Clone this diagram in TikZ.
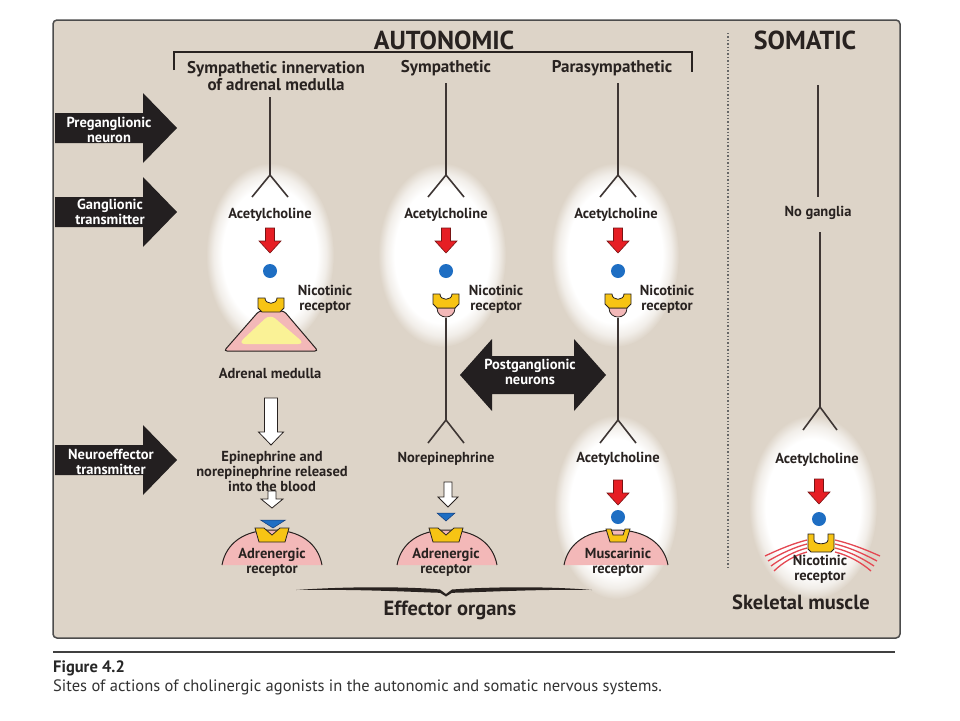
\documentclass[tikz,border=0pt]{standalone}
\usepackage{fontspec}
\setmainfont{PT Sans}
\definecolor{bgc}{RGB}{221,212,200}
\definecolor{txt}{RGB}{40,34,32}
\definecolor{nervec}{RGB}{62,54,52}
\definecolor{blk}{RGB}{35,31,32}
\definecolor{redc}{RGB}{230,30,36}
\definecolor{reddark}{RGB}{120,20,20}
\definecolor{bluec}{RGB}{30,110,195}
\definecolor{bluedark}{RGB}{20,60,120}
\definecolor{yel}{RGB}{247,196,20}
\definecolor{pinkc}{RGB}{243,184,184}
\definecolor{lyel}{RGB}{250,242,150}
\definecolor{muscred}{RGB}{228,72,82}
\pgfdeclareradialshading{glow}{\pgfpoint{0bp}{0bp}}{color(0bp)=(white); color(18.5bp)=(white); color(22bp)=(white!60!bgc); color(25bp)=(bgc); color(50bp)=(bgc)}
\tikzset{
  hdr/.style={font=\bfseries\fontsize{26}{28}\selectfont, text=txt, inner sep=0},
  colh/.style={font=\bfseries\fontsize{17}{17}\selectfont, text=txt, align=center, inner sep=0},
  lbl/.style={font=\bfseries\fontsize{14.5}{15}\selectfont, text=txt, align=center, inner sep=0},
  wl/.style={font=\bfseries\fontsize{14.5}{15}\selectfont, text=white, align=center, inner sep=0},
  big/.style={font=\bfseries\fontsize{20.5}{22}\selectfont, text=txt, inner sep=0},
  nerve/.style={draw=nervec, line width=1.6},
  outl/.style={draw=txt, line width=0.8},
  pics/leftarr/.style={code={\fill[blk] (0,-15) -- (88,-15) -- (88,-35) -- (122,0) -- (88,35) -- (88,15) -- (0,15) -- cycle;}},
  pics/dblarr/.style={code={\fill[blk] (-73,0) -- (-41,-36) -- (-41,-19) -- (41,-19) -- (41,-36) -- (73,0) -- (41,36) -- (41,19) -- (-41,19) -- (-41,36) -- cycle;}},
  pics/redarr/.style={code={\filldraw[fill=redc, draw=reddark, line width=0.6] (-4.5,0) -- (4.5,0) -- (4.5,13) -- (11,13) -- (0,25) -- (-11,13) -- (-4.5,13) -- cycle;}},
  pics/hollowbig/.style={code={\filldraw[fill=white, outl] (-6.5,0) -- (6.5,0) -- (6.5,34) -- (12.5,34) -- (0,47) -- (-12.5,34) -- (-6.5,34) -- cycle;}},
  pics/hollowsm/.style={code={\filldraw[fill=white, outl] (-4,0) -- (4,0) -- (4,8) -- (11,8) -- (0,17) -- (-11,8) -- (-4,8) -- cycle;}},
  pics/hollowmid/.style={code={\filldraw[fill=white, outl] (-4,0) -- (4,0) -- (4,15) -- (10,15) -- (0,25) -- (-10,15) -- (-4,15) -- cycle;}},
  pics/niccup/.style={code={\filldraw[fill=yel, outl] (-13,-7) -- (-6,-7) .. controls (-6,0) and (6,0) .. (6,-7) -- (13,-7) -- (13,3) -- (9,7) -- (-9,7) -- (-13,3) -- cycle;}},
  pics/adrcup/.style={code={\filldraw[fill=yel, outl] (-17,-7) -- (-8,-7) -- (0,0) -- (8,-7) -- (17,-7) -- (13,7) -- (-13,7) -- cycle;}},
  pics/muscup/.style={code={\filldraw[fill=yel, outl] (-12,-8) -- (-7,-8) -- (-5,-2) -- (5,-2) -- (7,-8) -- (12,-8) -- (8,5) -- (-8,5) -- cycle;}},
  pics/somcup/.style={code={\filldraw[fill=yel, outl] (-13,-9) -- (-7,-9) -- (-7,-3) .. controls (-7,2) and (7,2) .. (7,-3) -- (7,-9) -- (13,-9) -- (13,6) -- (10,9) -- (-10,9) -- (-13,6) -- cycle;}},
  pics/halfpink/.style={code={\filldraw[fill=pinkc, outl] (-9,0) .. controls (-9,12) and (9,12) .. (9,0) -- cycle;}},
  pics/dome/.style={code={
    \fill[pinkc] (-#1,0) .. controls (-0.92*#1,-22) and (-0.55*#1,-35) .. (0,-35) .. controls (0.55*#1,-35) and (0.92*#1,-22) .. (#1,0) -- cycle;
    \draw[txt, line width=1] (-#1,0) .. controls (-0.92*#1,-22) and (-0.55*#1,-35) .. (0,-35) .. controls (0.55*#1,-35) and (0.92*#1,-22) .. (#1,0);}},
  pics/bluetri/.style={code={\filldraw[fill=bluec, draw=bluedark, line width=0.5] (-#1,-4) -- (#1,-4) -- (0,4) -- cycle;}},
}
\begin{document}
\begin{tikzpicture}[x=1pt,y=-1pt]
\useasboundingbox (0,0) rectangle (960,720);
\fill[white] (0,0) rectangle (960,720);
% panel
\filldraw[fill=bgc, draw=black!70, line width=1.5, rounded corners=4] (53,20) rectangle (900,638);
% glows
\shade[shading=glow] (270,255) ellipse [x radius=64, y radius=92];
\shade[shading=glow] (442,255) ellipse [x radius=64, y radius=92];
\shade[shading=glow] (615,255) ellipse [x radius=64, y radius=92];
\shade[shading=glow] (616,507) ellipse [x radius=62, y radius=92];
\shade[shading=glow] (813,507) ellipse [x radius=64, y radius=92];
% headers
\node[hdr] (auto) at (444,40) {AUTONOMIC};
\node[hdr] (soma) at (805,40) {SOMATIC};
\draw[txt, line width=1.2] (174,70) -- (174,52) -- (692,52) -- (692,72);
\draw[black!60, line width=1.4, dotted] (728,33) -- (728,570);
\node[colh] (h1) at (276,76.5) {Sympathetic innervation\\of adrenal medulla};
\node[colh] (h2) at (446,68) {Sympathetic};
\node[colh] (h3) at (612,68) {Parasympathetic};
% left arrows
\pic at (55,128) {leftarr};
\pic at (55,212) {leftarr};
\pic at (55,460) {leftarr};
\node[wl] (pre) at (109,130) {Preganglionic\\neuron};
\node[wl] (gan) at (110,212) {Ganglionic\\transmitter};
\node[wl] (neu) at (111,462) {Neuroeffector\\transmitter};
% preganglionic neurons
\coordinate (n1t) at (270,97);  \coordinate (n1f) at (270,175);
\coordinate (n2t) at (446,83);  \coordinate (n2f) at (446,175);
\coordinate (n3t) at (618,83);  \coordinate (n3f) at (618,175);
\draw[nerve] (n1t) -- (n1f) -- +(-18,22) (n1f) -- +(18,22);
\draw[nerve] (n2t) -- (n2f) -- +(-18,22) (n2f) -- +(18,22);
\draw[nerve] (n3t) -- (n3f) -- +(-18,22) (n3f) -- +(18,22);
\coordinate (s1t) at (818,85); \coordinate (s1b) at (818,197);
\draw[nerve] (s1t) -- (s1b);
\node[lbl] (nog) at (818,213) {No ganglia};
\coordinate (s2t) at (820,232); \coordinate (s2f) at (820,407);
\draw[nerve] (s2t) -- (s2f) -- +(-17,23) (s2f) -- +(17,23);
% ganglionic transmission
\node[lbl] (ach1) at (270,215) {Acetylcholine};
\node[lbl] (ach2) at (446,215) {Acetylcholine};
\node[lbl] (ach3) at (616,215) {Acetylcholine};
\pic at (270,228) {redarr};
\pic at (446,228) {redarr};
\pic at (618,228) {redarr};
\fill[bluec] (270,271) circle (7);
\fill[bluec] (446,271) circle (7);
\fill[bluec] (618,271) circle (7);
% adrenal medulla
\filldraw[fill=pinkc, draw=txt, line width=1, rounded corners=3] (259,311) -- (284,311) -- (318,351) -- (224,351) -- cycle;
\fill[lyel, rounded corners=7] (270,314) -- (305,344) -- (238,344) -- cycle;
\pic at (271,305) {niccup};
\node[lbl] (nic1) at (325,299.5) {Nicotinic\\receptor};
\node[lbl] (adm) at (270,373) {Adrenal medulla};
% postganglionic lines
\coordinate (p2t) at (446,318); \coordinate (p2f) at (446,420);
\coordinate (p3t) at (618,318); \coordinate (p3f) at (618,420);
\draw[nerve] (p2t) -- (p2f) -- +(-18,23) (p2f) -- +(18,23);
\draw[nerve] (p3t) -- (p3f) -- +(-18,23) (p3f) -- +(18,23);
\pic at (446,308) {halfpink};
\pic at (618,308) {halfpink};
\pic at (446,301) {niccup};
\pic at (618,301) {niccup};
\node[lbl] (nic2) at (496,299.5) {Nicotinic\\receptor};
\node[lbl] (nic3) at (667,299.5) {Nicotinic\\receptor};
% postganglionic arrow
\pic at (533,375) {dblarr};
\node[wl] (post) at (530,372) {Postganglionic\\neurons};
% column 1 lower
\pic at (271,398) {hollowbig};
\node[lbl] (epi) at (272,471) {Epinephrine and\\norepinephrine released\\into the blood};
\pic at (272,491) {hollowsm};
\pic at (272,565) {dome=50};
\pic at (273,524) {bluetri=12.5};
\pic at (272,535) {adrcup};
\node[lbl] (ad1) at (272,562.5) {Adrenergic\\receptor};
% column 2 lower
\node[lbl] (nor) at (446,459) {Norepinephrine};
\pic at (448,482) {hollowmid};
\pic at (447,565) {dome=50};
\pic at (446,517) {bluetri=9};
\pic at (446,535) {adrcup};
\node[lbl] (ad2) at (446,562.5) {Adrenergic\\receptor};
% column 3 lower
\node[lbl] (ach4) at (618,459) {Acetylcholine};
\pic at (618,480) {redarr};
\fill[bluec] (618,517) circle (7);
\pic at (616,565) {dome=52};
\pic at (618,537) {muscup};
\node[lbl] (mus) at (618,562.5) {Muscarinic\\receptor};
% somatic lower
\node[lbl] (ach5) at (817,460) {Acetylcholine};
\pic at (819,479) {redarr};
\fill[bluec] (819,519) circle (7);
\foreach \k in {0,1,2,3}{
  \draw[muscred, line width=1.3] (765+3*\k,556+5*\k) .. controls (782,548+5*\k) and (795,543+4*\k) .. (807,540+4*\k);
  \draw[muscred, line width=1.3] (880-3*\k,556+5*\k) .. controls (862,548+5*\k) and (848,543+4*\k) .. (835,540+4*\k);
}
\pic at (821,543) {somcup};
\node[lbl] (nic4) at (820,569) {Nicotinic\\receptor};
\node[big] (skm) at (801,602) {Skeletal muscle};
% effector organs brace
\fill[txt] (296,590) .. controls (360,585.5) and (420,587.5) .. (440,589.5) -- (446,594) -- (452,589.5) .. controls (480,587.5) and (540,585.5) .. (592,590)
  .. controls (540,589) and (480,592.3) .. (452,592.8) -- (446,596.5) -- (440,592.8) .. controls (420,592.3) and (360,589) .. (296,590) -- cycle;
\node[big] (eff) at (450,610) {Effector organs};
% caption
\draw[black!75, line width=1.5] (53,652) -- (895,652);
\node[anchor=west, inner sep=0, font=\bfseries\fontsize{16.5}{18}\selectfont, text=black!85] (fig) at (53,668) {Figure 4.2};
\node[anchor=west, inner sep=0, font=\fontsize{16.5}{18}\selectfont, text=black!80] (cap) at (53,687) {Sites of actions of cholinergic agonists in the autonomic and somatic nervous systems.};
\end{tikzpicture}
\end{document}
